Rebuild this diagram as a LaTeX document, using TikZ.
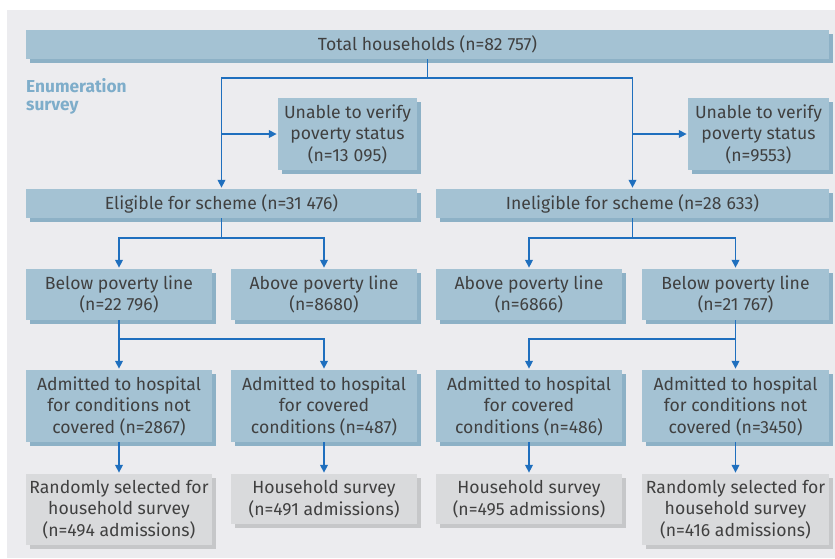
\documentclass[tikz,border=0pt]{standalone}
\usepackage{fontspec}
\setmainfont{Fira Sans}
\usetikzlibrary{calc, positioning, shadows, arrows.meta}
\definecolor{boxblue}{HTML}{A4C2D3}
\definecolor{shadeblue}{HTML}{8DB1C6}
\definecolor{boxgrey}{HTML}{D9DADC}
\definecolor{shadegrey}{HTML}{C6C7C9}
\definecolor{bggrey}{HTML}{ECECEF}
\definecolor{arrblue}{HTML}{1F6FBE}
\definecolor{txtgrey}{HTML}{404040}
\definecolor{labelblue}{HTML}{7EADCA}
\newcommand{\ths}{\hspace{0.28em}}

\begin{document}
\begin{tikzpicture}[x=1pt, y=-1pt, font=\fontsize{17.6}{21.5}\selectfont,
	box/.style={fill=boxblue, text=txtgrey, align=center, inner sep=0pt,
		drop shadow={shadow xshift=3.5pt, shadow yshift=-3.5pt, fill=shadeblue, opacity=1}},
	greybox/.style={fill=boxgrey, text=txtgrey, align=center, inner sep=0pt,
		drop shadow={shadow xshift=3.5pt, shadow yshift=-3.5pt, fill=shadegrey, opacity=1}},
	l_1/.style={draw=arrblue, line width=1.8pt},
	arr/.style={l_1, -{Triangle[length=8pt, width=7.5pt]}, shorten >=1pt}]
	\useasboundingbox (0,0) rectangle (835,558);
	\fill[bggrey] (7,10) rectangle (835,558);
	% top row
	\node[box, minimum width=803pt, minimum height=29pt] (total) at (427.5,44.5) {Total households (n=82\ths757)};
	\node[anchor=north west, align=left, inner sep=0pt, text=labelblue,
		font=\fontsize{17.3}{18.5}\selectfont\bfseries] (enum) at (26,78) {Enumeration\\survey};
	\node[box, minimum width=139pt, minimum height=72pt] (unableL) at (347.5,134) {Unable to verify\\poverty status\\(n=13\ths095)};
	\node[box, minimum width=141pt, minimum height=72pt] (unableR) at (758.5,134) {Unable to verify\\poverty status\\(n=9553)};
	\node[box, minimum width=391pt, minimum height=29pt] (elig) at (221.5,203.5) {Eligible for scheme (n=31\ths476)};
	\node[box, minimum width=393pt, minimum height=29pt] (inelig) at (632.5,203.5) {Ineligible for scheme (n=28\ths633)};
	% poverty line
	\node[box, minimum width=186pt, minimum height=51pt] (belowL) at (119,294.5) {Below poverty line\\(n=22\ths796)};
	\node[box, minimum width=186pt, minimum height=51pt] (aboveL) at (324,294.5) {Above poverty line\\(n=8680)};
	\node[box, minimum width=186pt, minimum height=51pt] (aboveR) at (529,294.5) {Above poverty line\\(n=6866)};
	\node[box, minimum width=187pt, minimum height=51pt] (belowR) at (735.5,294.5) {Below poverty line\\(n=21\ths767)};
	% admissions
	\node[box, minimum width=186pt, minimum height=72pt] (notcovL) at (119,406) {Admitted to hospital\\for conditions not\\covered (n=2867)};
	\node[box, minimum width=186pt, minimum height=72pt] (covL) at (324,406) {Admitted to hospital\\for covered\\conditions (n=487)};
	\node[box, minimum width=186pt, minimum height=72pt] (covR) at (529,406) {Admitted to hospital\\for covered\\conditions (n=486)};
	\node[box, minimum width=187pt, minimum height=72pt] (notcovR) at (735.5,406) {Admitted to hospital\\for conditions not\\covered (n=3450)};
	% household survey
	\node[greybox, minimum width=186pt, minimum height=71pt] (randL) at (119,509.5) {Randomly selected for\\household survey\\(n=494 admissions)};
	\node[greybox, minimum width=186pt, minimum height=50pt] (hhL) at (324,499) {Household survey\\(n=491 admissions)};
	\node[greybox, minimum width=186pt, minimum height=50pt] (hhR) at (529,499) {Household survey\\(n=495 admissions)};
	\node[greybox, minimum width=187pt, minimum height=71pt] (randR) at (735.5,509.5) {Randomly selected for\\household survey\\(n=416 admissions)};
	% connectors
	\coordinate (s1) at (427.5,78);
	\coordinate (s2) at (221.5,238);
	\coordinate (s3) at (632.5,238);
	\coordinate (s4) at (119,339);
	\coordinate (s5) at (735.5,339);
	\draw[l_1] (total) -- (s1);
	\draw[arr] (s1) -| (elig);
	\draw[arr] (s1) -| (inelig);
	\draw[arr] (elig |- unableL) -- (unableL);
	\draw[arr] (inelig |- unableR) -- (unableR);
	\draw[l_1] (elig) -- (s2);
	\draw[arr] (s2) -| (belowL);
	\draw[arr] (s2) -| (aboveL);
	\draw[l_1] (inelig) -- (s3);
	\draw[arr] (s3) -| (aboveR);
	\draw[arr] (s3) -| (belowR);
	\draw[l_1] (belowL) -- (s4);
	\draw[arr] (s4) -| (notcovL);
	\draw[arr] (s4) -| (covL);
	\draw[l_1] (belowR) -- (s5);
	\draw[arr] (s5) -| (covR);
	\draw[arr] (s5) -| (notcovR);
	\foreach \a/\b in {notcovL/randL, covL/hhL, covR/hhR, notcovR/randR}
		\draw[arr] (\a) -- (\b);
\end{tikzpicture}
\end{document}
